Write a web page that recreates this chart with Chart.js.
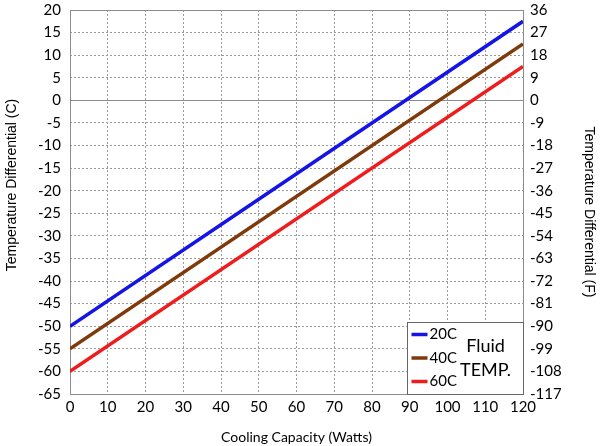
<!DOCTYPE html>
<html><head><meta charset="utf-8">
<script src="https://cdn.jsdelivr.net/npm/chart.js@4"></script>
<style>html,body{margin:0;padding:0;background:#fff}#wrap{width:600px;height:446px;position:relative}</style>
</head><body><div id="wrap"><canvas id="c"></canvas></div>
<script>
const capacity = [0, 120];
const fluid20 = [-50, 17.5];
const fluid40 = [-55, 12.5];
const fluid60 = [-60, 7.5];
const seriesLabels = ['20C', '40C', '60C'];
const seriesColors = ['#1414e6', '#7f3a0c', '#ee1c1c'];
const legendTitle = ['Fluid', 'TEMP.'];
const xTitle = 'Cooling Capacity (Watts)';
const yTitleC = 'Temperature Differential (C)';
const yTitleF = 'Temperature Differential (F)';

const FONT = 'Lato';
const toPts = (ys) => capacity.map((x, i) => ({x: x, y: ys[i]}));

const framePlugin = {
  id: 'frame',
  beforeDatasetsDraw(chart) {
    const {ctx, chartArea: a, scales} = chart;
    const y0 = scales.y.getPixelForValue(0);
    ctx.save();
    ctx.strokeStyle = '#8c8c8c';
    ctx.lineWidth = 1;
    ctx.beginPath();
    ctx.moveTo(a.left, Math.round(y0) + 0.5);
    ctx.lineTo(a.right, Math.round(y0) + 0.5);
    ctx.stroke();
    ctx.strokeRect(Math.round(a.left) + 0.5, Math.round(a.top) + 0.5, Math.round(a.right - a.left), Math.round(a.bottom - a.top));
    ctx.restore();
  },
  afterDraw(chart) {
    const {ctx, chartArea: a} = chart;
    // axis titles
    ctx.save();
    ctx.fillStyle = '#000';
    ctx.font = '14px "Liberation Sans"';
    ctx.textAlign = 'center';
    ctx.textBaseline = 'middle';
    ctx.translate(12, a.top + 175);
    ctx.rotate(-Math.PI / 2);
    ctx.fillText(yTitleC, 0, 0);
    ctx.restore();
    ctx.save();
    ctx.fillStyle = '#000';
    ctx.font = '14px "Liberation Sans"';
    ctx.textAlign = 'center';
    ctx.textBaseline = 'middle';
    ctx.translate(589, a.top + 202);
    ctx.rotate(Math.PI / 2);
    ctx.fillText(yTitleF, 0, 0);
    ctx.restore();

    const w = 116, h = 72;
    const bx = Math.round(a.right - w) + 0.5, by = Math.round(a.bottom - h) + 0.5;
    ctx.save();
    ctx.fillStyle = '#fff';
    ctx.fillRect(bx, by, w, h);
    ctx.strokeStyle = '#666';
    ctx.lineWidth = 1;
    ctx.strokeRect(bx, by, w, h);
    ctx.font = '15px ' + FONT;
    ctx.textBaseline = 'middle';
    chart.data.datasets.forEach((ds, i) => {
      const yy = by + 12 + i * 23.5;
      ctx.strokeStyle = ds.borderColor;
      ctx.lineWidth = 3.5;
      ctx.beginPath();
      ctx.moveTo(bx + 4, yy);
      ctx.lineTo(bx + 20, yy);
      ctx.stroke();
      ctx.fillStyle = '#000';
      ctx.textAlign = 'left';
      ctx.fillText(ds.label, bx + 22, yy);
    });
    ctx.font = '18px ' + FONT;
    ctx.textAlign = 'center';
    ctx.fillText(legendTitle[0], bx + 78, by + 24);
    ctx.fillText(legendTitle[1], bx + 78, by + 48);
    ctx.restore();
  }
};

const tickFont = {family: FONT, size: 15};
const titleFont = {family: FONT, size: 14};
const noPadV = (s) => { s.paddingTop = 0; s.paddingBottom = 0; };

new Chart(document.getElementById('c'), {
  type: 'line',
  data: {
    datasets: [fluid20, fluid40, fluid60].map((d, i) => ({
      label: seriesLabels[i],
      data: toPts(d),
      borderColor: seriesColors[i],
      backgroundColor: seriesColors[i],
      borderWidth: 3.5,
      pointRadius: 0,
      fill: false,
      yAxisID: 'y'
    }))
  },
  options: {
    responsive: true,
    maintainAspectRatio: false,
    animation: false,
    layout: {padding: {top: 10, right: 0, left: 0, bottom: 0}},
    plugins: {legend: {display: false}, tooltip: {enabled: false}},
    scales: {
      x: {
        type: 'linear', min: 0, max: 120,
        ticks: {stepSize: 10, color: '#000', font: tickFont, padding: 4, maxRotation: 0},
        grid: {color: '#9a9a9a', drawTicks: false},
        border: {display: false, dash: [2, 2]},
        title: {display: true, text: xTitle, color: '#000', font: titleFont, padding: {top: 4, bottom: 0}},
        afterFit(s) { s.height = 52; s.paddingLeft = 0; s.paddingRight = 0; }
      },
      y: {
        position: 'left', min: -65, max: 20,
        ticks: {stepSize: 5, color: '#000', font: tickFont, padding: 9},
        grid: {color: '#9a9a9a', drawTicks: false},
        border: {display: false, dash: [2, 2]},
        title: {display: false, text: yTitleC},
        afterFit(s) { s.width = 70; noPadV(s); }
      },
      y2: {
        position: 'right', min: -117, max: 36,
        ticks: {stepSize: 9, color: '#000', font: tickFont, padding: 7},
        grid: {drawOnChartArea: false, drawTicks: false},
        border: {display: false},
        title: {display: false, text: yTitleF},
        afterFit(s) { s.width = 77; noPadV(s); }
      }
    }
  },
  plugins: [framePlugin]
});
</script></body></html>
